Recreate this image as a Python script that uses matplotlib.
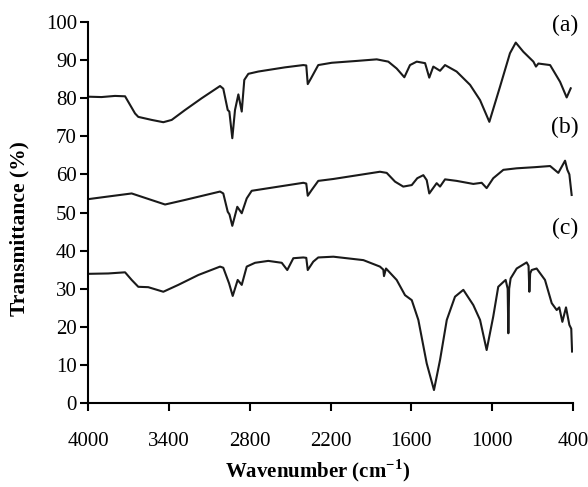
import matplotlib
matplotlib.use("Agg")
import matplotlib.pyplot as plt

plt.rcParams['font.family'] = ['Liberation Serif', 'DejaVu Serif']
plt.rcParams['mathtext.fontset'] = 'custom'
plt.rcParams['mathtext.rm'] = 'Liberation Serif'
plt.rcParams['mathtext.bf'] = 'Liberation Serif:bold'

# spectrum (a)
wn_a = [4000, 3900, 3800, 3725, 3651, 3627, 3527, 3441, 3379, 3280, 3156, 3020,
        2996, 2963, 2951, 2929, 2909, 2884, 2859, 2840, 2810, 2736, 2538, 2402,
        2380, 2369, 2345, 2291, 2191, 2000, 1857, 1771, 1709, 1652, 1610, 1560,
        1498, 1467, 1437, 1387, 1350, 1264, 1164, 1090, 1021, 942, 868, 825, 769,
        694, 675, 657, 570, 496, 447, 417]
t_a = [80.4, 80.3, 80.6, 80.5, 76.0, 75.1, 74.3, 73.7, 74.3, 76.9, 80.0, 83.2,
       82.5, 76.9, 76.5, 69.5, 76.9, 81.0, 76.5, 84.8, 86.4, 87.0, 88.1, 88.7,
       88.6, 83.7, 85.2, 88.7, 89.3, 89.8, 90.2, 89.6, 87.8, 85.5, 88.7, 89.6,
       89.2, 85.4, 88.3, 87.2, 88.7, 87.0, 83.5, 79.5, 73.8, 83.0, 91.8, 94.6, 92.2,
       89.6, 88.3, 89.1, 88.7, 84.3, 80.2, 82.6]

# spectrum (b)
wn_b = [4000, 3850, 3676, 3428, 3280, 3020, 2996, 2963, 2950, 2929, 2892, 2859,
        2822, 2785, 2402, 2380, 2369, 2340, 2291, 2179, 1833, 1783, 1721, 1660,
        1597, 1556, 1511, 1486, 1467, 1412, 1387, 1350, 1264, 1140, 1078, 1041,
        992, 917, 818, 682, 570, 509, 459, 442, 427, 410]
t_b = [53.5, 54.2, 55.0, 52.1, 53.3, 55.5, 55.0, 50.2, 49.5, 46.5, 51.5, 49.8,
       53.7, 55.7, 57.8, 57.6, 54.4, 55.9, 58.3, 58.8, 60.7, 60.4, 58.1, 56.8,
       57.2, 59.0, 59.8, 58.5, 55.0, 57.7, 56.8, 58.7, 58.3, 57.5, 57.8, 56.4,
       59.0, 61.2, 61.6, 61.9, 62.2, 60.4, 63.6, 61.2, 60.0, 54.6]

# spectrum (c)
wn_c = [4000, 3850, 3725, 3676, 3627, 3553, 3441, 3330, 3181, 3020, 2996, 2953,
        2926, 2889, 2859, 2822, 2760, 2662, 2562, 2521, 2476, 2402, 2380, 2369,
        2328, 2291, 2179, 1956, 1833, 1808, 1803, 1788, 1709, 1647, 1597, 1548,
        1486, 1432, 1387, 1337, 1276, 1214, 1140, 1090, 1041, 992, 955, 922, 900,
        885, 880, 874, 863, 818, 744, 730, 724, 718, 707, 670, 608, 558, 521, 502,
        479, 452, 427, 413, 407]
t_c = [33.9, 34.0, 34.3, 32.3, 30.5, 30.4, 29.2, 31.0, 33.6, 35.8, 35.5, 31.4,
       28.1, 32.3, 31.0, 35.8, 36.8, 37.3, 36.8, 34.9, 38.0, 38.2, 38.1, 34.9,
       37.1, 38.2, 38.4, 37.5, 35.8, 35.0, 33.3, 35.3, 32.3, 28.3, 27.0, 21.8,
       10.4, 3.4, 11.3, 21.8, 27.9, 29.7, 25.7, 21.8, 13.9, 22.7, 30.5, 31.6, 32.3,
       30.0, 18.3, 30.0, 32.7, 35.3, 36.9, 36.0, 29.2, 34.0, 34.9, 35.3, 32.3, 26.2,
       24.4, 25.1, 21.3, 25.1, 20.5, 19.5, 13.5]

labels = ['(a)', '(b)', '(c)']
label_y = [99.2, 72.4, 45.9]

fig = plt.figure(figsize=(5.88, 4.87), dpi=100)
ax = fig.add_axes([0.1497, 0.1725, 0.8248, 0.7823])

for wn, t in [(wn_a, t_a), (wn_b, t_b), (wn_c, t_c)]:
    ax.plot(wn, t, color='#1a1a1a', lw=1.5)

for lab, y in zip(labels, label_y):
    ax.text(462, y, lab, fontsize=17, ha='center', va='center', clip_on=False)

ax.set_xlim(4000, 400)
ax.set_ylim(0, 100)
ax.set_xticks([4000, 3400, 2800, 2200, 1600, 1000, 400])
ax.set_yticks(range(0, 101, 10))
for s in ['top', 'right']:
    ax.spines[s].set_visible(False)
for s in ['left', 'bottom']:
    ax.spines[s].set_linewidth(1.5)
ax.tick_params(axis='both', direction='out', length=6, width=1.5, labelsize=15)
ax.tick_params(axis='x', pad=15)
ax.tick_params(axis='y', pad=2)

ax.set_xlabel(r'Wavenumber (cm$^{\mathbf{-1}}$)', fontsize=15, fontweight='bold')
ax.set_ylabel('Transmittance (%)', fontsize=15.5, fontweight='bold')
ax.xaxis.set_label_coords(0.474, -0.144)
ax.yaxis.set_label_coords(-0.12, 0.459)

fig.savefig('out.png', dpi=100)
